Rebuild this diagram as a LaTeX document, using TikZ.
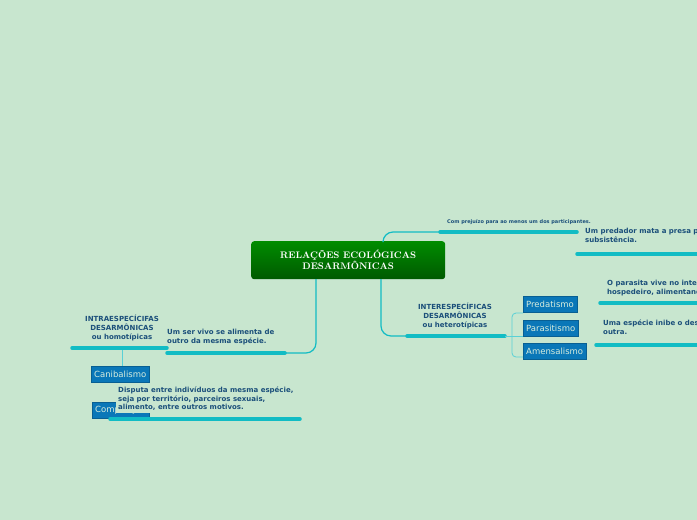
\documentclass[tikz,border=0pt]{standalone}
\usepackage{fontspec}
\setsansfont{DejaVu Sans}
\usetikzlibrary{positioning}
\definecolor{bgcol}{HTML}{C8E6CF}
\definecolor{txtcol}{HTML}{1B4F7A}
\definecolor{linecol}{HTML}{12BCC4}
\definecolor{boxcol}{HTML}{0A77B8}
\tikzset{
  note/.style={anchor=north west, align=left, text=txtcol, font=\sffamily\bfseries\fontsize{7}{8.5}\selectfont, inner sep=0pt},
  topic/.style={align=center, text=txtcol, font=\sffamily\bfseries\fontsize{7}{9}\selectfont, inner sep=0pt},
  kind/.style={anchor=north west, fill=boxcol, text=bgcol!70!white, font=\sffamily\fontsize{8.5}{9}\selectfont, minimum height=16pt, inner xsep=3pt, inner ysep=0pt, draw=boxcol!80!black},
  uline/.style={draw=linecol, line width=3.5pt, line cap=round},
  link/.style={draw=linecol, line width=1.2pt, rounded corners=10pt},
  thin/.style={draw=linecol!70, line width=0.8pt}
}
\begin{document}
\begin{tikzpicture}[x=1pt,y=-1pt]
\fill[bgcol] (0,0) rectangle (697,520);
\clip (0,0) rectangle (697,520);

% root
\node (root) [anchor=north west, minimum width=194pt, minimum height=38pt, rounded corners=3pt, top color=green!55!black, bottom color=green!35!black, text=white, align=center, font=\bfseries\fontsize{9.5}{11}\selectfont] at (251,241) {RELAÇÕES ECOLÓGICAS\\DESARMÔNICAS};

% top branch
\coordinate (t0) at (440,232);
\coordinate (t1) at (577,232);
\node (topnote) [note, font=\sffamily\bfseries\fontsize{5}{6}\selectfont] at (447,219) {Com prejuízo para ao menos um dos participantes.};
\draw[link] (383,241) |- (t0);
\draw[uline] (t0) -- (t1);
\node (pred) [note] at (585,228) {Um predador mata a presa para sua\\subsistência.};
\draw[uline] (577,254) -- (710,254);

% left branch
\coordinate (l0) at (285,353);
\coordinate (l1) at (167,353);
\draw[link] (316,279) |- (l0);
\draw[uline] (l0) -- (l1);
\node (canidef) [note] at (167,329) {Um ser vivo se alimenta de\\outro da mesma espécie.};
\node (intra) [topic] at (122,328) {INTRAESPECÍCIFAS\\DESARMÔNICAS\\ou homotípicas};
\coordinate (i0) at (72,348);
\coordinate (i1) at (167,348);
\draw[uline] (i0) -- (i1);
\draw[thin] (122,350) -- (122,380);
\node (cani) [kind] at (91,366) {Canibalismo};
\node (comp) [kind] at (92,402) {Competição};
\node (compdef) [note, fill=bgcol, inner sep=2pt] at (116,385) {Disputa entre indivíduos da mesma espécie,\\seja por território, parceiros sexuais,\\alimento, entre outros motivos.};
\draw[uline] (110,419) -- (300,419);

% right branch
\coordinate (r0) at (407,336);
\coordinate (r1) at (505,336);
\draw[link] (381,279) |- (r0);
\draw[uline] (r0) -- (r1);
\node (inter) [topic] at (455,316) {INTERESPECÍFICAS\\DESARMÔNICAS\\ou heterotípicas};
\draw[thin, rounded corners=4pt] (523,313) -| (512,357) -- (523,357);
\draw[thin] (505,336) -- (523,336);
\node (preda) [kind] at (523,296) {Predatismo};
\node (para) [kind] at (523,320) {Parasitismo};
\node (amen) [kind] at (523,343) {Amensalismo};
\node (paradef) [note] at (607,280) {O parasita vive no interior do\\hospedeiro, alimentando-se dele.};
\draw[uline] (600,303) -- (710,303);
\node (amendef) [note] at (603,320) {Uma espécie inibe o desenvolvimento da\\outra.};
\draw[uline] (596,345) -- (710,345);
\end{tikzpicture}
\end{document}
